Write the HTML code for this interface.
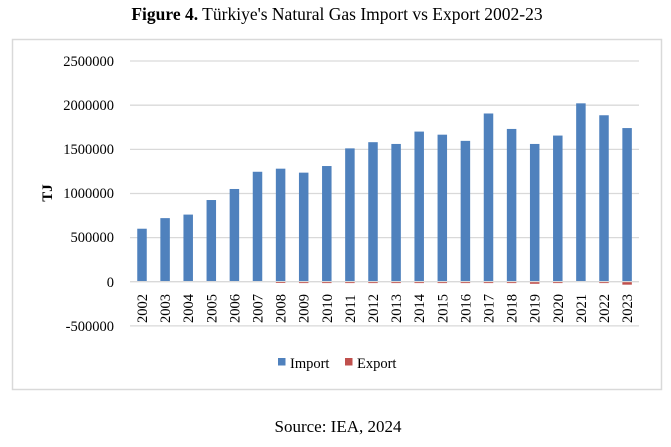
<!DOCTYPE html>
<html><head><meta charset="utf-8"><style>
html,body{margin:0;padding:0;background:#fff;}
svg, svg text{font-family:"Liberation Serif","Times New Roman",serif !important;}
</style></head><body>
<svg width="671" height="442" viewBox="0 0 671 442" xmlns="http://www.w3.org/2000/svg" font-family="Liberation Serif, serif">
<text x="337" y="20" font-size="17.5" text-anchor="middle" fill="#000"><tspan font-weight="bold">Figure 4.</tspan> Türkiye's Natural Gas Import vs Export 2002-23</text>
<rect x="12.5" y="39.5" width="649" height="350" fill="#fff" stroke="#d9d9d9" stroke-width="1.5"/>
<g stroke="#d9d9d9" stroke-width="1.3">
<line x1="130" y1="61" x2="639" y2="61"/>
<line x1="130" y1="105.2" x2="639" y2="105.2"/>
<line x1="130" y1="149.4" x2="639" y2="149.4"/>
<line x1="130" y1="193.5" x2="639" y2="193.5"/>
<line x1="130" y1="237.6" x2="639" y2="237.6"/>
<line x1="130" y1="325.9" x2="639" y2="325.9"/>
</g>
<g font-size="14.5" text-anchor="end" fill="#000">
<text x="114" y="66">2500000</text>
<text x="114" y="110">2000000</text>
<text x="114" y="154">1500000</text>
<text x="114" y="198">1000000</text>
<text x="114" y="242">500000</text>
<text x="114" y="287">0</text>
<text x="114" y="331">-500000</text>
</g>
<text transform="translate(52,193) rotate(-90)" font-size="15" font-weight="bold" text-anchor="middle">TJ</text>
<g id="bars"></g>
<line x1="130" y1="281.7" x2="639" y2="281.7" stroke="#d9d9d9" stroke-width="1.3"/>
<g id="ex"></g>
<g id="lbl" font-size="14.5"></g>
<rect x="278" y="358" width="7.5" height="7.5" fill="#4f81bd"/>
<text x="290" y="368" font-size="14.5">Import</text>
<rect x="345" y="358" width="7.5" height="7.5" fill="#c0504d"/>
<text x="357" y="368" font-size="14.5">Export</text>
<text x="338" y="432" font-size="17" text-anchor="middle">Source: IEA, 2024</text>
<script>
var imp=[600,720,760,925,1050,1245,1280,1235,1310,1510,1580,1560,1700,1665,1595,1905,1730,1560,1655,2020,1885,1740];
var ex=[0,0,0,0,0,0,6,10,10,10,10,10,10,10,10,10,10,18,10,0,10,28];
var ns="http://www.w3.org/2000/svg",b=document.getElementById("bars"),e=document.getElementById("ex"),l=document.getElementById("lbl");
for(var i=0;i<22;i++){var c=142+23.1*i,h=imp[i]*0.0883;
var r=document.createElementNS(ns,"rect");r.setAttribute("x",c-4.75);r.setAttribute("y",281.7-h);r.setAttribute("width",9.5);r.setAttribute("height",h);r.setAttribute("fill","#4f81bd");b.appendChild(r);
if(ex[i]>0){var r2=document.createElementNS(ns,"rect");r2.setAttribute("x",c-4.75);r2.setAttribute("y",282.2);r2.setAttribute("width",9.5);r2.setAttribute("height",Math.max(0.8,ex[i]*0.0883));r2.setAttribute("fill","#c0504d");e.appendChild(r2);}
var t=document.createElementNS(ns,"text");t.setAttribute("transform","translate("+(c+5)+",323) rotate(-90)");t.textContent=2002+i;l.appendChild(t);}
</script>
</svg>
</body></html>
